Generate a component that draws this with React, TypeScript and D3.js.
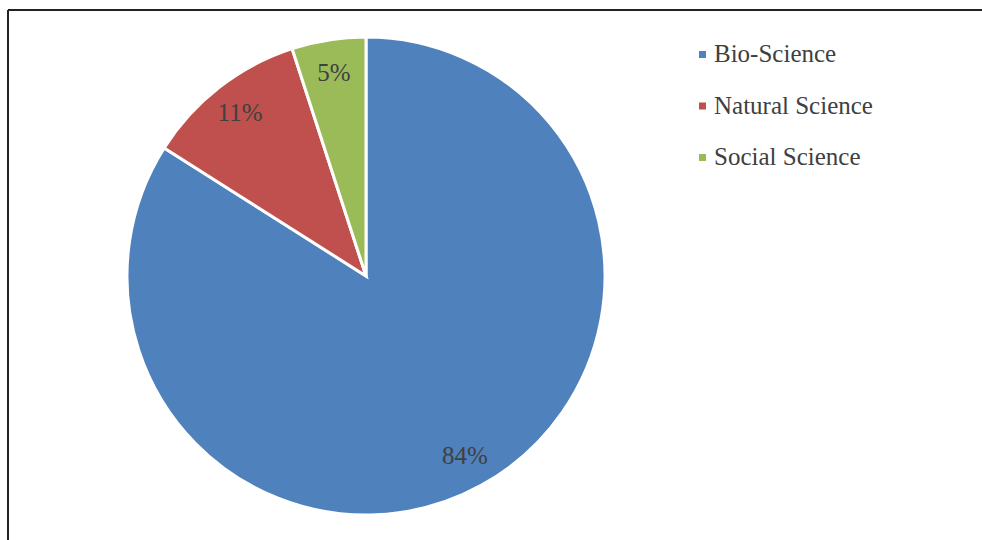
import * as d3 from 'd3';

const categories = ['Bio-Science', 'Natural Science', 'Social Science'];
const shares = [84, 11, 5];
const colors = ['#4F81BD', '#C0504D', '#9BBB59'];

const width = 982;
const height = 540;
const cx = 366;
const cy = 276;
const radius = 239;

export default function App() {
  const pie = d3
    .pie<number>()
    .sort(null)
    .value((d) => d);
  const arcs = pie(shares);
  const arc = d3.arc<d3.PieArcDatum<number>>().innerRadius(0).outerRadius(radius);
  // labels sit at ~0.85 of the radius, like the office-style default
  const labelArc = d3.arc<d3.PieArcDatum<number>>().innerRadius(radius * 1.72).outerRadius(0);

  return (
    <svg
      width={width}
      height={height}
      style={{ position: 'fixed', left: 0, top: 0, background: '#fff' }}
      fontFamily="'Liberation Serif', serif"
    >
      <rect x={0} y={0} width={width} height={height} fill="#fff" />
      <line x1={8} y1={10} x2={width} y2={10} stroke="#222" strokeWidth={2} />
      <line x1={8} y1={10} x2={8} y2={height} stroke="#222" strokeWidth={2} />

      <g transform={`translate(${cx},${cy})`}>
        {arcs.map((a, i) => (
          <path key={categories[i]} d={arc(a) ?? ''} fill={colors[i]} stroke="#fff" strokeWidth={3} />
        ))}
        {arcs.map((a, i) => {
          const [lx, ly] = labelArc.centroid(a);
          return (
            <text
              key={`l-${categories[i]}`}
              x={lx}
              y={ly}
              dy="0.3em"
              textAnchor="middle"
              fontSize={25}
              fill="#404040"
            >
              {`${shares[i]}%`}
            </text>
          );
        })}
      </g>

      <g transform="translate(699,0)">
        {categories.map((c, i) => (
          <g key={c} transform={`translate(0,${62 + i * 51.5})`}>
            <rect x={0} y={-11} width={7} height={7} fill={colors[i]} />
            <text x={15} y={0} fontSize={25} fill="#404040">
              {c}
            </text>
          </g>
        ))}
      </g>
    </svg>
  );
}
